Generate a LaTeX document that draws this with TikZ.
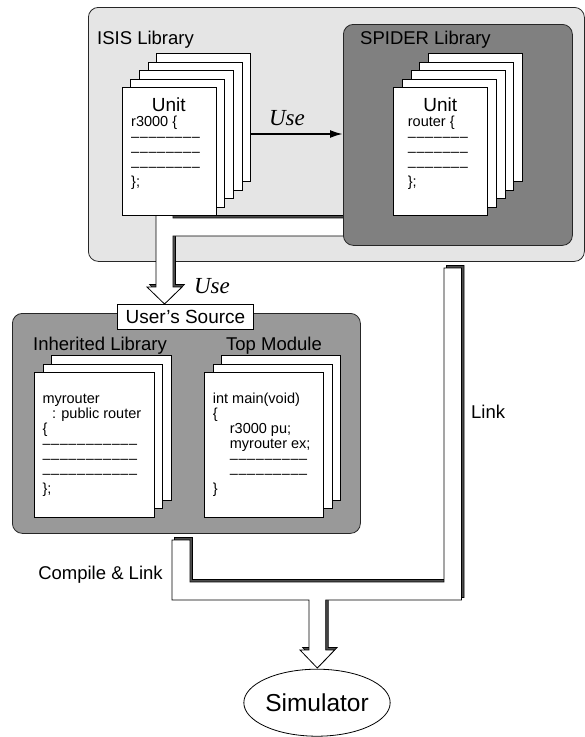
\documentclass[tikz,border=0pt]{standalone}
\usepackage{fontspec}
\setmainfont{Liberation Sans}
\newfontfamily\italicserif{Liberation Serif}
\usetikzlibrary{shapes.geometric,arrows.meta}

% a row of code placeholder dashes
\newcommand\dashes[1]{\foreach\i in {1,...,#1}{–\kern0.6pt}}

\tikzset{
  lib/.style={draw=black!85, line width=0.8pt, rounded corners=10pt, anchor=north west, inner sep=0pt},
  sheet/.style={draw=black, line width=0.8pt, fill=white, anchor=north west, inner sep=0pt},
  blockshadow/.style={fill=black!70, draw=black, line width=0.6pt, shift={(2.5,-2.5)}},
  block/.style={fill=white, draw=black, line width=0.8pt},
  lbl/.style={font=\fontsize{18.5}{20}\selectfont, inner sep=0pt, anchor=base},
  code/.style={font=\fontsize{14.5}{15}\selectfont, inner sep=0pt, anchor=base west},
  uselbl/.style={font=\italicserif\itshape\fontsize{23}{24}\selectfont, inner sep=0pt, anchor=base},
}

\begin{document}
\begin{tikzpicture}[x=1pt, y=-1pt]
\useasboundingbox[fill=white] (0,0) rectangle (585,737);

% ---------------- ISIS library ----------------
\node[lib, fill=black!10, minimum width=496pt, minimum height=254pt] (isis) at (88,7) {};

% hollow "Use" arrow merging the ISIS unit and the SPIDER library
\path[blockshadow] (156,205) -- (156,287) -- (147,287) -- (164.5,304) -- (182,287) -- (173,287)
  -- (173,236) -- (350,236) -- (350,218) -- (173,218) -- (173,205) -- cycle;
\path[block] (156,205) -- (156,287) -- (147,287) -- (164.5,304) -- (182,287) -- (173,287)
  -- (173,236) -- (350,236) -- (350,218) -- (173,218) -- (173,205) -- cycle;

\foreach \k in {4,...,0}
  \node[sheet, minimum width=94pt, minimum height=128pt] (isisp\k) at ({121.7+8.6*\k},{87-8.45*\k}) {};
\node[lbl, font=\fontsize{19}{20}\selectfont] (isisunit) at (168.7,111.8) {Unit};
\node[code] (isiscode) at (131,126.3) {\begin{tabular}[t]{@{}l@{}}
  r3000 \{\\ \dashes{8}\\ \dashes{8}\\ \dashes{8}\\ \};\end{tabular}};
\node[lbl, anchor=base west] (isislbl) at (97,44.3) {ISIS Library};

% ---------------- SPIDER library ----------------
\node[lib, fill=black!50, minimum width=229pt, minimum height=221pt] (spider) at (343,24) {};
\foreach \k in {4,...,0}
  \node[sheet, minimum width=94pt, minimum height=128pt] (spip\k) at ({393.3+8.6*\k},{87-8.45*\k}) {};
\node[lbl, font=\fontsize{19}{20}\selectfont] (spiunit) at (440.3,111.8) {Unit};
\node[code] (spicode) at (407.7,126.3) {\begin{tabular}[t]{@{}l@{}}
  router \{\\ \dashes{7}\\ \dashes{7}\\ \dashes{7}\\ \};\end{tabular}};
\node[lbl, anchor=base west] (spilbl) at (360,44.3) {SPIDER Library};

% black "Use" connector
\draw[line width=2pt, -{Latex[length=13pt, width=8pt]}] (isisp4.east |- 0,134) -- (spider.west |- 0,134);
\node[uselbl] (use1) at (287,125) {Use};
\node[uselbl] (use2) at (212,293) {Use};

% ---------------- user's source ----------------
\node[lib, fill=black!40, minimum width=348pt, minimum height=220pt] (user) at (12,313) {};
\node[draw=black, line width=0.8pt, fill=white, anchor=north west, inner sep=0pt,
      minimum width=136pt, minimum height=25pt] (userbox) at (117,304) {};
\node[lbl, font=\fontsize{19}{20}\selectfont, anchor=center] (usertxt) at (userbox.center) {User's Source};

\node[lbl] (inhlbl) at (100,350.5) {Inherited Library};
\node[lbl] (toplbl) at (274,350) {Top Module};

\foreach \k in {2,1,0}
  \node[sheet, minimum width=119.7pt, minimum height=144.4pt] (inhp\k) at ({34.3+8.4*\k},{372.3-8.5*\k}) {};
\node[code] (inhcode) at (42.3,403) {\begin{tabular}[t]{@{}l@{}}
  myrouter\\ \hspace*{9.5pt}: public router\\ \{\\ \dashes{11}\\ \dashes{11}\\ \dashes{11}\\ \};\end{tabular}};

\foreach \k in {2,1,0}
  \node[sheet, minimum width=119pt, minimum height=144.4pt] (topp\k) at ({204.3+8.4*\k},{372.3-8.5*\k}) {};
\node[code] (topcode) at (212.7,403) {\begin{tabular}[t]{@{}l@{}}
  int main(void)\\ \{\\ \hspace*{17pt}r3000 pu;\\ \hspace*{17pt}myrouter ex;\\
  \hspace*{17pt}\dashes{9}\\ \hspace*{17pt}\dashes{9}\\ \}\end{tabular}};

% ---------------- compile & link into the simulator ----------------
\path[blockshadow] (172,540) -- (172,600) -- (309,600) -- (309,650) -- (300,650) -- (317.3,668)
  -- (334.6,650) -- (325.7,650) -- (325.7,600) -- (461.5,600) -- (461.5,268) -- (444,268)
  -- (444,582) -- (190,582) -- (190,540) -- cycle;
\path[block] (172,540) -- (172,600) -- (309,600) -- (309,650) -- (300,650) -- (317.3,668)
  -- (334.6,650) -- (325.7,650) -- (325.7,600) -- (461.5,600) -- (461.5,268) -- (444,268)
  -- (444,582) -- (190,582) -- (190,540) -- cycle;

\node[lbl, anchor=base west] (linklbl) at (471,418) {Link};
\node[lbl] (cllbl) at (100.5,579) {Compile \& Link};

\node[ellipse, draw=black, line width=0.8pt, fill=white, inner sep=0pt,
      minimum width=137pt, minimum height=67pt,
      font=\fontsize{24.5}{26}\selectfont] (sim) at (317,702.7) {Simulator};
\end{tikzpicture}
\end{document}
